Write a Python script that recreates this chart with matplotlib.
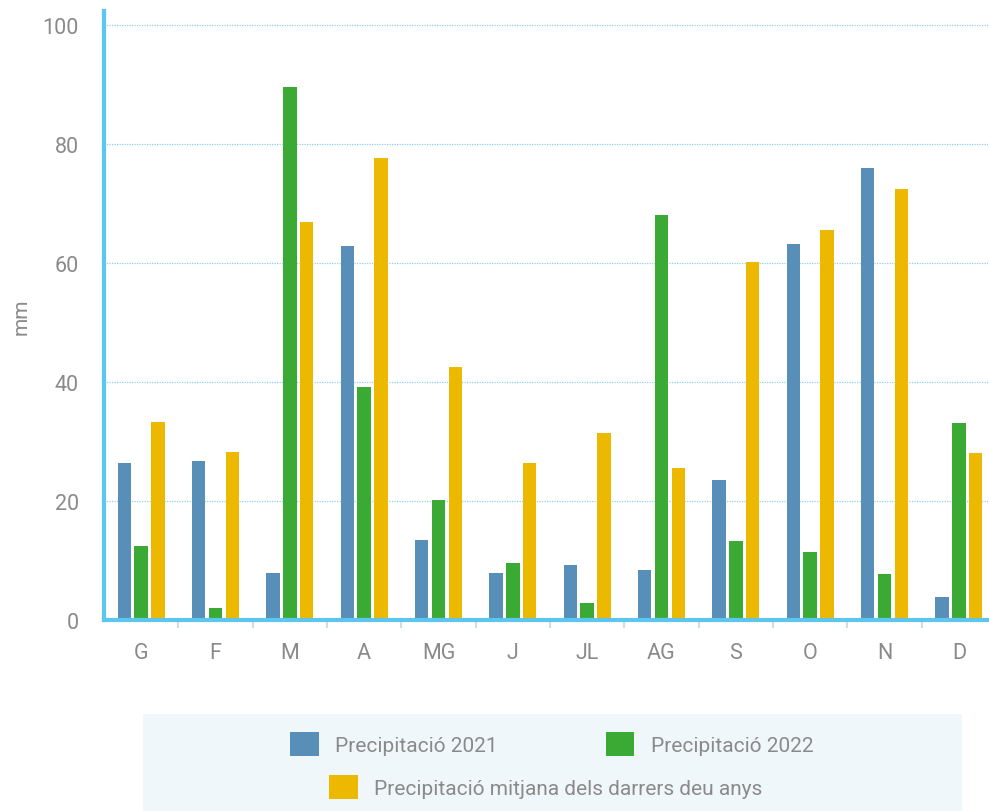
import matplotlib
matplotlib.use("Agg")
import matplotlib.pyplot as plt
import numpy as np
from matplotlib.patches import Rectangle

plt.rcParams["font.family"] = ["Roboto", "DejaVu Sans"]

months = ["G", "F", "M", "A", "MG", "J", "JL", "AG", "S", "O", "N", "D"]
prec_2021 = [26.4, 26.7, 7.9, 62.9, 13.4, 7.9, 9.2, 8.4, 23.5, 63.2, 76.0, 3.9]
prec_2022 = [12.4, 2.0, 89.7, 39.2, 20.2, 9.6, 2.9, 68.1, 13.3, 11.4, 7.7, 33.1]
prec_mitjana = [33.3, 28.2, 66.9, 77.6, 42.5, 26.4, 31.4, 25.5, 60.2, 65.5, 72.4, 28.1]

labels = ["Precipitació 2021", "Precipitació 2022",
          "Precipitació mitjana dels darrers deu anys"]
colors = ["#588fb8", "#3aaa35", "#ecb800"]
grey = "#8a8a8a"
axis_blue = "#5cc6ef"

W, H = 989, 812
fig = plt.figure(figsize=(W / 100, H / 100), dpi=100)
ax = fig.add_axes([104 / W, 1 - 621 / H, 892 / W, (621 - 12) / H])

x = np.arange(len(months))
width = 0.18
step = 0.225
bars = []
for i, (vals, c, lab) in enumerate(zip([prec_2021, prec_2022, prec_mitjana], colors, labels)):
    b = ax.bar(x + (i - 1) * step, vals, width, color=c, label=lab, zorder=3)
    bars.append(b)

ax.set_xlim(-0.5, len(months) - 0.5)
ax.set_ylim(0, 102.4)
ax.set_yticks([0, 20, 40, 60, 80, 100])
ax.set_xticks(x)
ax.set_xticklabels(months)
ax.set_xticks(np.arange(0.5, len(months) - 0.5, 1), minor=True)
ax.tick_params(axis="x", which="major", length=0, pad=16, labelsize=15.5, labelcolor=grey)
ax.tick_params(axis="x", which="minor", length=6, width=1.5, color="#d0dde6")
ax.tick_params(axis="y", length=0, pad=18, labelsize=15.5, labelcolor=grey)

ax.yaxis.grid(True, linestyle=(0, (1, 1)), color="#8fd3f0", linewidth=0.9, zorder=0)
for s in ["top", "right"]:
    ax.spines[s].set_visible(False)
for s in ["left", "bottom"]:
    ax.spines[s].set_color(axis_blue)
    ax.spines[s].set_linewidth(3)
    ax.spines[s].set_zorder(4)

ax.set_ylabel("mm", fontsize=15, color=grey)
ax.yaxis.set_label_coords((31 - 104) / 892, 0.5)

# legend background
fig.patches.append(Rectangle((143 / W, 0), (962 - 143) / W, (812 - 715) / H,
                             transform=fig.transFigure, facecolor="#f0f7fb",
                             edgecolor="none", zorder=0))

leg_kw = dict(frameon=False, fontsize=15, labelcolor=grey, handlelength=1.35,
              handleheight=1.35, handletextpad=0.8, borderpad=0)
fig.legend(bars[:2], labels[:2], ncol=2, columnspacing=5.2,
           loc="center", bbox_to_anchor=(552 / W, 1 - 745 / H), **leg_kw)
fig.legend(bars[2:], labels[2:], loc="center",
           bbox_to_anchor=(546 / W, 1 - 788 / H), **leg_kw)

fig.savefig("out.png", dpi=100)
